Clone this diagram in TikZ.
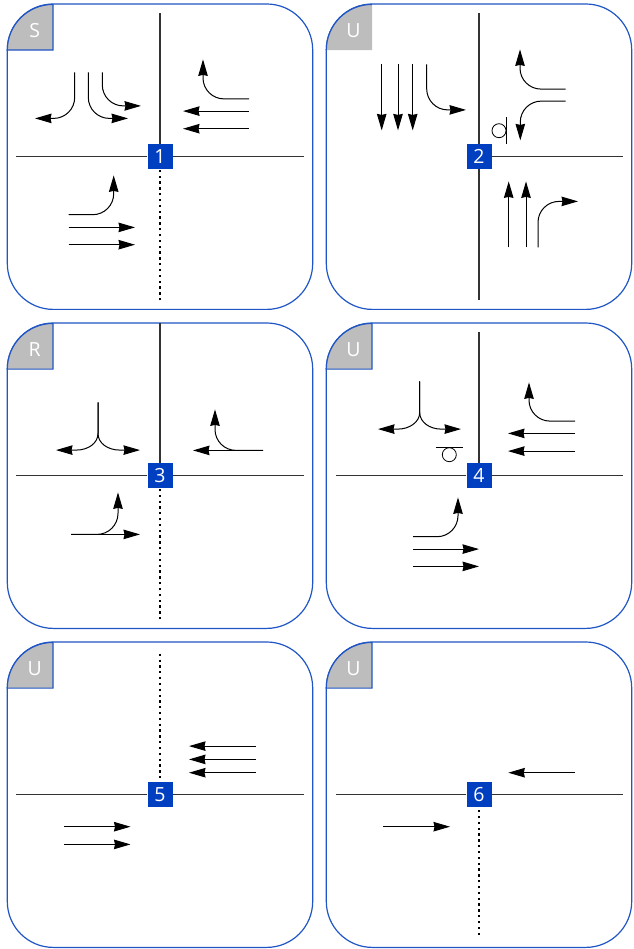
\documentclass[tikz,border=0pt]{standalone}
\usepackage{xcolor}
\usepackage{fontspec}
\setmainfont{Open Sans}
\usetikzlibrary{arrows.meta}
\definecolor{panelblue}{HTML}{1F55C4}
\definecolor{numblue}{HTML}{0040C0}
\definecolor{cornergrey}{HTML}{BDBDBD}

\begin{document}
\begin{tikzpicture}[x=1pt, y=-1pt, every node/.style={font=\fontsize{19.5}{20}\selectfont}]
  \tikzstyle{panel} = [rectangle, draw=panelblue, line width=1.2pt, rounded corners=46pt, minimum size=305.4pt, inner sep=0pt]
  \tikzstyle{corner} = [fill=cornergrey, draw=panelblue, line width=1.2pt]
  \tikzstyle{cornerplain} = [fill=cornergrey]
  \tikzstyle{sig} = [text=white, inner sep=0pt]
  \tikzstyle{num} = [rectangle, fill=numblue, text=white, minimum size=25pt, inner sep=0pt]
  \tikzstyle{road} = [draw, line width=1.1pt, black!80]
  \tikzstyle{dots} = [draw, line width=2.3pt, dash pattern=on 2.3pt off 3.53pt]
  \tikzstyle{line} = [draw, line width=1pt, -{Stealth[length=16.5pt,width=9.5pt,inset=1pt]}]
  \tikzstyle{turn} = [line, rounded corners=21pt]
  \tikzstyle{ped} = [draw, line width=0.8pt]
  \useasboundingbox (0,-0.4) rectangle (633,948.6);

  % Panel 1
  \node[panel] (panel1) at (160,156.3) {};
  \draw[corner] (7.3,49.7) [rounded corners=45.7pt] -- (7.3,4) [sharp corners] -- (53,4) -- (53,49.7) -- cycle;
  \node[sig] (sig1) at (34.7,30) {S};
  \node[num] (num1) at (160,156) {1};
  \coordinate (n1) at (160,13);
  \coordinate (s1) at (160,300);
  \coordinate (w1) at (16,156);
  \coordinate (e1) at (304,156);
  \draw[road] (num1) -- (n1);
  \draw[road] (num1) -- (w1);
  \draw[road] (num1) -- (e1);
  \draw[dots] (s1) -- (num1);
  \draw[turn] (74.7,72) -- (74.7,118) -- (35,118);
  \draw[turn] (88.3,72) -- (88.3,118) -- (128,118);
  \draw[turn] (102.3,72) -- (102.3,105.5) -- (141,105.5);
  \draw[turn] (249,98.5) -- (203,98.5) -- (203,59);
  \draw[line] (249,110.7) -- (183,110.7);
  \draw[line] (249,128.3) -- (183,128.3);
  \draw[turn] (68.7,214.3) -- (113.7,214.3) -- (113.7,175);
  \draw[line] (68.7,227) -- (135,227);
  \draw[line] (68.7,244.3) -- (135,244.3);

  % Panel 2
  \node[panel] (panel2) at (479,156.3) {};
  \fill[cornerplain] (326.3,49.7) [rounded corners=45.7pt] -- (326.3,4) [sharp corners] -- (372,4) -- (372,49.7) -- cycle;
  \draw[panelblue, line width=1.2pt] (326.3,49.7) [rounded corners=45.7pt] -- (326.3,4) [sharp corners] -- (372,4);
  \node[sig] (sig2) at (353.5,30) {U};
  \node[num] (num2) at (479,156) {2};
  \coordinate (n2) at (479,13);
  \coordinate (s2) at (479,300);
  \coordinate (e2) at (623,156);
  \draw[road] (num2) -- (n2);
  \draw[road] (num2) -- (s2);
  \draw[road] (num2) -- (e2);
  \draw[line] (381.7,64) -- (381.7,130);
  \draw[line] (398,64) -- (398,130);
  \draw[line] (412.7,64) -- (412.7,130);
  \draw[turn] (426.7,64) -- (426.7,109.5) -- (466,109.5);
  \draw[turn] (565.7,88.7) -- (520,88.7) -- (520,49);
  \draw[turn] (565.7,100.7) -- (520.3,100.7) -- (520.3,140);
  \node[draw, ped, circle, minimum size=14pt, inner sep=0pt] (ped2) at (499,130.3) {};
  \coordinate (pa2) at (506,117);
  \coordinate (pb2) at (506,143.6);
  \draw[ped] (pa2) -- (pb2);
  \draw[line] (508.7,247) -- (508.7,181);
  \draw[line] (526,247) -- (526,181);
  \draw[turn] (538,247) -- (538,201) -- (578,201);

  % Panel 3
  \node[panel] (panel3) at (160,475.3) {};
  \draw[corner] (7.3,368.7) [rounded corners=45.7pt] -- (7.3,323) [sharp corners] -- (53,323) -- (53,368.7) -- cycle;
  \node[sig] (sig3) at (34.7,349) {R};
  \node[num] (num3) at (160,475) {3};
  \coordinate (n3) at (160,323);
  \coordinate (s3) at (160,619);
  \coordinate (w3) at (16,475);
  \coordinate (e3) at (304,475);
  \draw[road] (num3) -- (n3);
  \draw[road] (num3) -- (w3);
  \draw[road] (num3) -- (e3);
  \draw[dots] (s3) -- (num3);
  \draw[line] (98,402) -- (98,433) .. controls (98,443) and (88,449.7) .. (76,449.7) -- (56,449.7);
  \draw[line] (98,402) -- (98,433) .. controls (98,443) and (108,449.7) .. (120,449.7) -- (140,449.7);
  \draw[turn] (263,450) -- (215,450) -- (215,409);
  \draw[line] (263,450) -- (193,450);
  \draw[turn] (71,534) -- (118,534) -- (118,492);
  \draw[line] (71,534) -- (140,534);

  % Panel 4
  \node[panel] (panel4) at (479,475.3) {};
  \draw[corner] (326.3,368.7) [rounded corners=45.7pt] -- (326.3,323) [sharp corners] -- (372,323) -- (372,368.7) -- cycle;
  \node[sig] (sig4) at (353.5,349) {U};
  \node[num] (num4) at (479,475) {4};
  \coordinate (n4) at (479,332);
  \coordinate (w4) at (335.5,475);
  \coordinate (e4) at (623,475);
  \draw[road] (num4) -- (n4);
  \draw[road] (num4) -- (w4);
  \draw[road] (num4) -- (e4);
  \draw[line] (419.7,381) -- (419.7,412) .. controls (419.7,422) and (409,428.7) .. (398,428.7) -- (378,428.7);
  \draw[line] (419.7,381) -- (419.7,412) .. controls (419.7,422) and (430,428.7) .. (441,428.7) -- (461,428.7);
  \node[draw, ped, circle, minimum size=14pt, inner sep=0pt] (ped4) at (449.3,454.3) {};
  \coordinate (pa4) at (435.7,447);
  \coordinate (pb4) at (463,447);
  \draw[ped] (pa4) -- (pb4);
  \draw[turn] (575,420.7) -- (529,420.7) -- (529,382);
  \draw[line] (575,433) -- (508,433);
  \draw[line] (575,450.7) -- (508,450.7);
  \draw[turn] (413,536.3) -- (458,536.3) -- (458,497);
  \draw[line] (413,548.7) -- (479,548.7);
  \draw[line] (413,566) -- (479,566);

  % Panel 5
  \node[panel] (panel5) at (160,794.3) {};
  \draw[corner] (7.3,687.7) [rounded corners=45.7pt] -- (7.3,642) [sharp corners] -- (53,642) -- (53,687.7) -- cycle;
  \node[sig] (sig5) at (34.7,668) {U};
  \node[num] (num5) at (160,794) {5};
  \coordinate (n5) at (160,653.3);
  \coordinate (w5) at (16,794);
  \coordinate (e5) at (304,794);
  \draw[dots] (n5) -- (num5);
  \draw[road] (num5) -- (w5);
  \draw[road] (num5) -- (e5);
  \draw[line] (255.7,745.7) -- (189,745.7);
  \draw[line] (255.7,759) -- (189,759);
  \draw[line] (255.7,772.3) -- (189,772.3);
  \draw[line] (64,826.3) -- (130.5,826.3);
  \draw[line] (64,844) -- (130.5,844);

  % Panel 6
  \node[panel] (panel6) at (479,794.3) {};
  \draw[corner] (326.3,687.7) [rounded corners=45.7pt] -- (326.3,642) [sharp corners] -- (372,642) -- (372,687.7) -- cycle;
  \node[sig] (sig6) at (353.5,668) {U};
  \node[num] (num6) at (479,794) {6};
  \coordinate (s6) at (479,934.5);
  \coordinate (w6) at (335.5,794);
  \coordinate (e6) at (623,794);
  \draw[dots] (s6) -- (num6);
  \draw[road] (num6) -- (w6);
  \draw[road] (num6) -- (e6);
  \draw[line] (574.7,772.3) -- (508.3,772.3);
  \draw[line] (383.3,826.3) -- (450,826.3);
\end{tikzpicture}
\end{document}
